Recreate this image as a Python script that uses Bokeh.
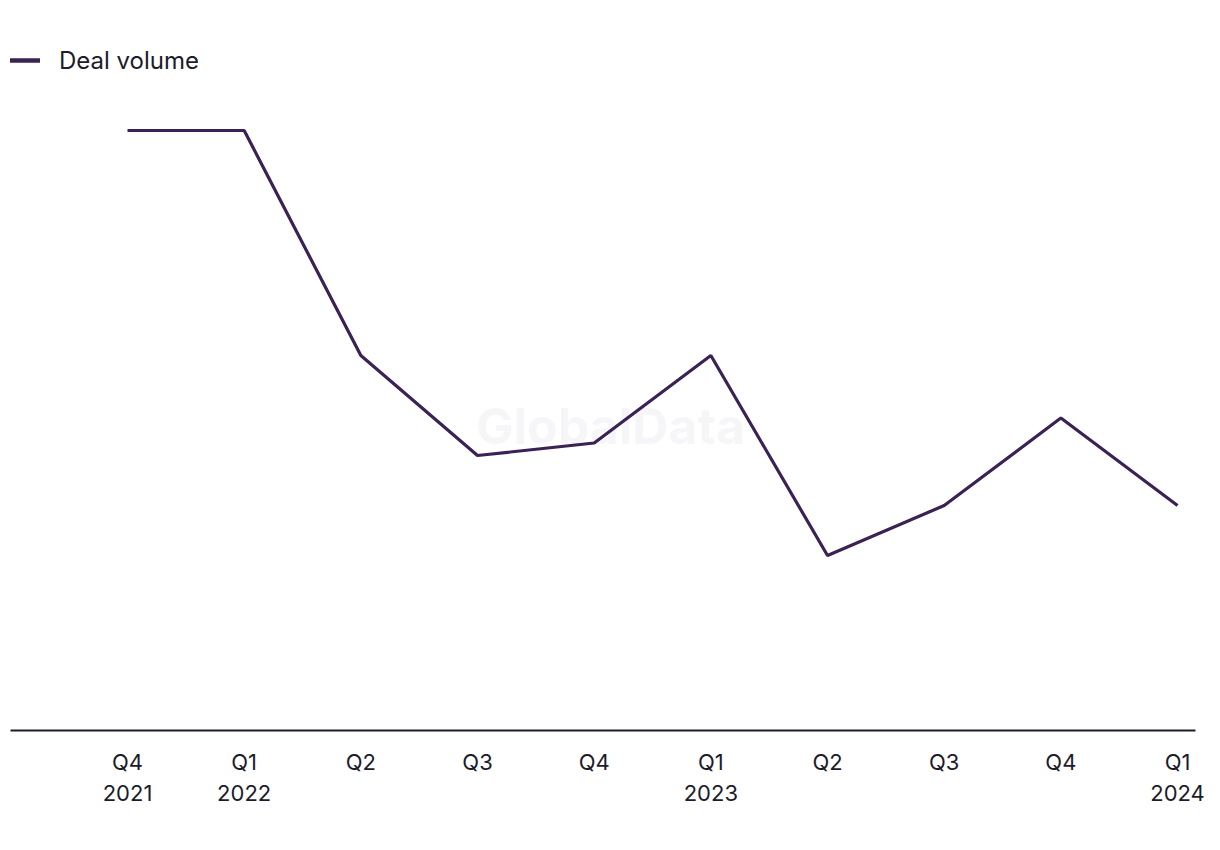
from bokeh.plotting import figure
from bokeh.models import ColumnDataSource, FixedTicker, Legend, LegendItem, Label, Range1d
from bokeh.embed import file_html
from bokeh.resources import INLINE

quarters = ["Q4\n2021", "Q1\n2022", "Q2", "Q3", "Q4", "Q1\n2023", "Q2", "Q3", "Q4", "Q1\n2024"]
deal_volume = [48, 48, 30, 22, 23, 30, 14, 18, 25, 18]
series_name = "Deal volume"

LINE_COLOR = "#3a2255"
TEXT_COLOR = "#1c1c2b"
FONT = "Inter"

xs = list(range(len(quarters)))
src = ColumnDataSource(dict(x=xs, y=deal_volume))

p = figure(width=1220, height=850, output_backend="svg", toolbar_location=None,
           x_range=Range1d(-1.003, 9.154), y_range=Range1d(0, 55.2),
           min_border_left=10, min_border_right=25, min_border_top=40, min_border_bottom=120)
p.outline_line_color = None
p.xgrid.visible = False
p.ygrid.visible = False
p.yaxis.visible = False

wm = Label(x=4.14, y=24.4, text="GlobalData", text_font=FONT, text_font_style="bold",
           text_font_size="50px", text_color="#f6f6f8", text_align="center", text_baseline="middle",
           level="underlay")
p.add_layout(wm)

r = p.line("x", "y", source=src, line_color=LINE_COLOR, line_width=3.2)
# legend key only (kept outside the visible ranges)
key = p.line(x=[-50, -49], y=[-50, -50], line_color=LINE_COLOR, line_width=4.5, line_cap="round")

ax = p.xaxis[0]
ax.ticker = FixedTicker(ticks=xs)
ax.major_label_overrides = {i: q for i, q in zip(xs, quarters)}
ax.major_tick_line_color = None
ax.minor_tick_line_color = None
ax.axis_line_color = TEXT_COLOR
ax.axis_line_width = 2
ax.major_label_text_font = FONT
ax.major_label_text_font_size = "22px"
ax.major_label_text_color = TEXT_COLOR
ax.major_label_standoff = 12
ax.major_label_text_line_height = 1.22

legend = Legend(items=[LegendItem(label=series_name, renderers=[key])], location="top_left",
                margin=0, padding=9, glyph_width=30, glyph_height=40, label_height=40,
                label_standoff=19,
                label_text_font=FONT, label_text_font_size="24px", label_text_color=TEXT_COLOR,
                border_line_color=None, background_fill_alpha=0)
p.add_layout(legend)

open("out.html", "w").write(file_html(p, INLINE))
